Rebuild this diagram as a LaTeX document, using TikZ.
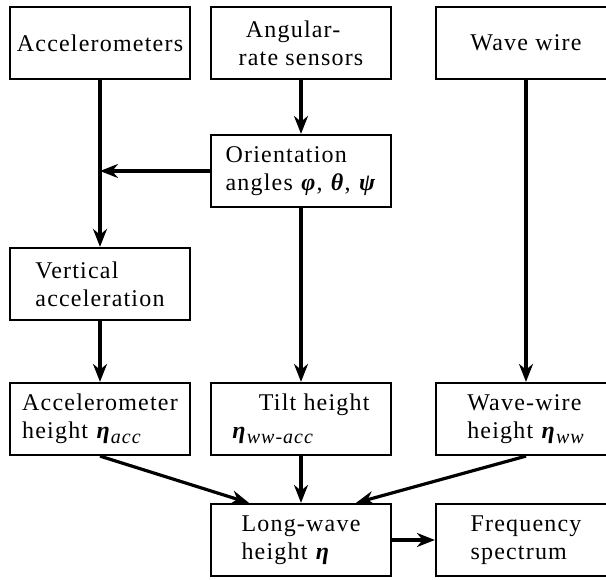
\documentclass[tikz,border=0pt]{standalone}
\usepackage{fontspec}
\setmainfont{Liberation Serif}[LetterSpace=5]
\usepackage{tikz}
\usetikzlibrary{arrows.meta}
\newcommand{\gk}[1]{\textbf{\textit{#1}}}
\newcommand{\idx}[1]{\raisebox{-5pt}{\fontsize{20pt}{20pt}\selectfont\textit{#1}}}
\tikzstyle{block} = [rectangle, minimum width=180pt, minimum height=72pt,
  align=left, draw=black, line width=2.2pt, font=\fontsize{24pt}{28pt}\selectfont]
\tikzstyle{arrow} = [line width=3.2pt,-{Stealth[length=18pt,width=14pt]}]

\begin{document}
\begin{tikzpicture}[x=1pt, y=1pt, node distance=128pt]

  \useasboundingbox (0,0) rectangle (606,-580);
  \clip (0,0) rectangle (606,-580);

  %% Sensors
  \node (acc) [block] at (100,-43) {Accelerometers};
  \node (ang) [block, right of=acc, xshift=73pt] {\hspace{0.3em}Angular-\\rate sensors};
  \node (wire) [block, right of=ang, xshift=97pt] {Wave wire};

  \node (ori) [block, below of=ang] {Orientation\\angles \gk{φ}, \gk{θ}, \gk{ψ}};
  \node (vert) [block, below of=acc, yshift=-113pt] {Vertical\\acceleration};

  %% Heights
  \node (acch) [block, below of=vert, yshift=-7pt] {Accelerometer\\height \gk{η}\idx{acc}};
  \node (tilt) [block, right of=acch, xshift=73pt] {\hspace{1.1em}Tilt height\\\gk{η}\idx{ww-acc}\hspace{0.6em}};
  \node (wwh) [block, right of=tilt, xshift=97pt] {Wave-wire\\height \gk{η}\idx{ww}};

  \node (long) [block, below of=tilt, yshift=7pt] {Long-wave\\height \gk{η}};
  \node (freq) [block, right of=long, xshift=97pt] {Frequency\\spectrum};

  \draw [arrow] (acc) -- (vert);
  \draw [arrow] (ang) -- (ori);
  \draw [arrow] (wire) -- (wwh);

  %% Arrow tip stops on the accelerometer line
  \draw [arrow] (ori.west) -- (ori.west -| acc.south);

  \draw [arrow] (ori) -- (tilt);
  \draw [arrow] (vert) -- (acch);

  \draw [arrow] (acch.south) -- ([xshift=-52pt]long.north);
  \draw [arrow] (tilt) -- (long);
  \draw [arrow] (wwh.south) -- ([xshift=55pt]long.north);

  \draw [arrow] (long) -- (freq);

\end{tikzpicture}
\end{document}
